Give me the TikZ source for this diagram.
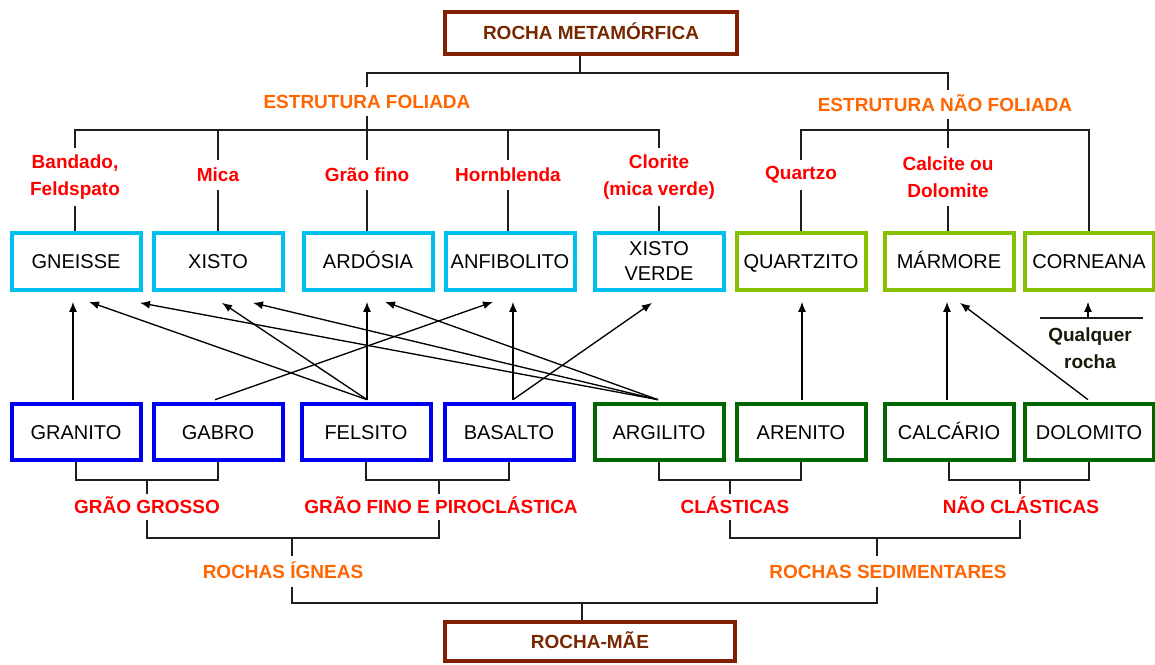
\documentclass[tikz,border=0pt]{standalone}
\usepackage{fontspec}
\setmainfont{Liberation Sans}
\usetikzlibrary{arrows.meta,calc}
\definecolor{brownc}{RGB}{128,32,0}
\definecolor{browntxt}{RGB}{120,40,0}
\definecolor{cyanc}{RGB}{0,192,240}
\definecolor{limec}{RGB}{134,192,0}
\definecolor{bluec}{RGB}{0,0,240}
\definecolor{greenc}{RGB}{0,102,0}
\definecolor{orangec}{RGB}{255,102,0}
\definecolor{redc}{RGB}{255,0,0}
\definecolor{darkc}{RGB}{25,25,10}
\definecolor{linec}{RGB}{30,30,30}
\pgfdeclarelayer{bg}
\pgfsetlayers{bg,main}
\begin{document}
\begin{tikzpicture}[x=0.75pt,y=-0.75pt,
  rockbase/.style={draw, line width=3pt, fill=white, minimum width=96.75pt, minimum height=42.5pt, inner sep=0pt, font=\fontsize{15}{18.75}\selectfont, align=center},
  rock/.style={rockbase, text height=10.75pt, text depth=0pt},
  fol/.style={rock, draw=cyanc},
  nfol/.style={rock, draw=limec},
  ign/.style={rock, draw=bluec},
  sed/.style={rock, draw=greenc},
  mainbox/.style={draw=brownc, line width=3pt, fill=white, minimum width=219pt, inner sep=0pt, text=browntxt, font=\bfseries\fontsize{14.25}{17}\selectfont, text height=10.3pt, text depth=0pt},
  cat/.style={text=orangec, font=\bfseries\fontsize{14.25}{17}\selectfont, inner sep=0pt, text height=10.3pt, text depth=0pt},
  sub/.style={text=redc, font=\bfseries\fontsize{14.25}{20.25}\selectfont, inner sep=0pt, align=center},
  qual/.style={text=darkc, font=\bfseries\fontsize{14.25}{20.25}\selectfont, inner sep=0pt, align=center},
  tree/.style={draw=linec, line width=1.2pt},
  arr/.style={draw=black, line width=1pt, -{Latex[length=7.5pt,width=6pt]}},
]
\useasboundingbox (0,0) rectangle (1155,664);

% title boxes
\node[mainbox, minimum height=31.5pt] (meta) at (591,33) {ROCHA METAMÓRFICA};
\node[mainbox, minimum height=29.25pt, minimum width=217.5pt] (mae) at (590,641.5) {ROCHA-MÃE};

% category labels
\node[cat, minimum height=21pt] (ef) at (367,101.5) {ESTRUTURA FOLIADA};
\node[cat, minimum height=21pt] (enf) at (945,104.5) {ESTRUTURA NÃO FOLIADA};

% mineral labels
\node[sub, minimum height=42.75pt] (s1) at (75,177) {Bandado,\\Feldspato};
\node[sub, minimum height=22.5pt] (s2) at (218,175) {Mica};
\node[sub, minimum height=22.5pt] (s3) at (367,175) {Grão fino};
\node[sub, minimum height=22.5pt] (s4) at (508,175) {Hornblenda};
\node[sub, minimum height=42.75pt] (s5) at (659,177) {Clorite\\(mica verde)};
\node[sub, minimum height=22.5pt] (q) at (801,175) {Quartzo};
\node[sub, minimum height=42.75pt] (c) at (948,177) {Calcite ou\\Dolomite};

% metamorphic rocks
\node[fol] (gneisse) at (76,261.5) {GNEISSE};
\node[fol] (xisto) at (218,261.5) {XISTO};
\node[fol] (ardosia) at (368,261.5) {ARDÓSIA};
\node[fol] (anfibolito) at (510,261.5) {ANFIBOLITO};
\node[rockbase, draw=cyanc] (xverde) at (659,261.5) {XISTO\\VERDE};
\node[nfol] (quartzito) at (801,261.5) {QUARTZITO};
\node[nfol] (marmore) at (949,261.5) {MÁRMORE};
\node[nfol] (corneana) at (1089,261.5) {CORNEANA};

% parent rocks
\node[ign] (granito) at (76,432) {GRANITO};
\node[ign] (gabro) at (218,432) {GABRO};
\node[ign] (felsito) at (366,432) {FELSITO};
\node[ign] (basalto) at (509,432) {BASALTO};
\node[sed] (argilito) at (659,432) {ARGILITO};
\node[sed] (arenito) at (801,432) {ARENITO};
\node[sed] (calcario) at (949,432) {CALCÁRIO};
\node[sed] (dolomito) at (1089,432) {DOLOMITO};

\node[qual] (qr) at (1090,348.5) {Qualquer\\rocha};

% lower labels
\node[sub, minimum height=19.5pt, text height=10.3pt, text depth=0pt] (ggl) at (147,507) {GRÃO GROSSO};
\node[sub, minimum height=19.5pt, text height=10.3pt, text depth=0pt] (gfl) at (441,507) {GRÃO FINO E PIROCLÁSTICA};
\node[sub, minimum height=19.5pt, text height=10.3pt, text depth=0pt] (cll) at (735,507) {CLÁSTICAS};
\node[sub, minimum height=19.5pt, text height=10.3pt, text depth=0pt] (ncl) at (1021,507) {NÃO CLÁSTICAS};
\node[cat, minimum height=22.5pt] (ri) at (283,571.5) {ROCHAS ÍGNEAS};
\node[cat, minimum height=22.5pt] (rs) at (888,571.5) {ROCHAS SEDIMENTARES};

\begin{pgfonlayer}{bg}
% top tree
\coordinate (tj) at (580,73);
\draw[tree] ([xshift=-8.25pt]meta.south) -- (tj);
\draw[tree] (ef.north) |- (tj);
\draw[tree] ([xshift=2.25pt]enf.north) |- (tj);
\coordinate (fb) at (367,130);
\draw[tree] (ef.south) -- (fb);
\draw[tree] (s1.north) |- (fb);
\draw[tree] (s2.north) |- (fb);
\draw[tree] (s3.north) -- (fb);
\draw[tree] (s4.north) |- (fb);
\draw[tree] (s5.north) |- (fb);
\draw[tree] (s1.south) -- (s1.south |- gneisse.north);
\draw[tree] (s2.south) -- (s2.south |- xisto.north);
\draw[tree] (s3.south) -- (s3.south |- ardosia.north);
\draw[tree] (s4.south) -- (s4.south |- anfibolito.north);
\draw[tree] (s5.south) -- (s5.south |- xverde.north);
\coordinate (nb) at (948,130);
\draw[tree] ([xshift=2.25pt]enf.south) -- (nb);
\draw[tree] (q.north) |- (nb);
\draw[tree] (c.north) -- (nb);
\draw[tree] (corneana.north) |- (nb);
\draw[tree] (q.south) -- (q.south |- quartzito.north);
\draw[tree] (c.south) -- (c.south |- marmore.north);

% bottom tree
\coordinate (gg) at (147,480);
\coordinate (gf) at (439,480);
\coordinate (cl) at (730,480);
\coordinate (nc) at (1020,480);
\draw[tree] (granito.south) |- (gg) -| (gabro.south);
\draw[tree] (felsito.south) |- (gf) -| (basalto.south);
\draw[tree] (argilito.south) |- (cl) -| (arenito.south);
\draw[tree] (calcario.south) |- (nc) -| (dolomito.south);
\draw[tree] (ggl.north -| gg) -- (gg);
\draw[tree] (gfl.north -| gf) -- (gf);
\draw[tree] (cll.north -| cl) -- (cl);
\draw[tree] (ncl.north -| nc) -- (nc);
\coordinate (ig) at (292,538);
\coordinate (sd) at (877,538);
\draw[tree] (ggl.south -| gg) |- (ig);
\draw[tree] (gfl.south -| gf) |- (ig);
\draw[tree] (ri.north -| ig) -- (ig);
\draw[tree] (cll.south -| cl) |- (sd);
\draw[tree] (ncl.south -| nc) |- (sd);
\draw[tree] (rs.north -| sd) -- (sd);
\coordinate (mj) at (582,603);
\draw[tree] (ri.south -| ig) |- (mj);
\draw[tree] (rs.south -| sd) |- (mj);
\draw[tree] (mae.north -| mj) -- (mj);

% transformation arrows
\draw[arr] ($(granito.north)+(-3,-2)$) -- ($(gneisse.south)+(-3,10)$);
\draw[arr] ($(felsito.north)+(1,-2)$) -- ($(gneisse.south)+(13,10)$);
\draw[arr] ($(argilito.north)+(-1,-2)$) -- ($(gneisse.south)+(64,11)$);
\draw[arr] ($(felsito.north)+(1,-2)$) -- ($(xisto.south)+(4,11)$);
\draw[arr] ($(argilito.north)+(-1,-2)$) -- ($(xisto.south)+(35,11)$);
\draw[arr] ($(felsito.north)+(1,-2)$) -- ($(ardosia.south)+(-1,10)$);
\draw[arr] ($(argilito.north)+(-1,-2)$) -- ($(ardosia.south)+(17,10)$);
\draw[arr] ($(gabro.north)+(-3,-2)$) -- ($(anfibolito.south)+(-17,10)$);
\draw[arr] ($(basalto.north)+(4,-2)$) -- ($(anfibolito.south)+(3,10)$);
\draw[arr] ($(basalto.north)+(4,-2)$) -- ($(xverde.south)+(-7,11)$);
\draw[arr] ($(arenito.north)+(1,-2)$) -- ($(quartzito.south)+(1,10)$);
\draw[arr] ($(calcario.north)+(-2,-2)$) -- ($(marmore.south)+(-2,10)$);
\draw[arr] ($(dolomito.north)+(-1,-2)$) -- ($(marmore.south)+(11,11)$);

% any rock -> corneana
\coordinate (qa) at (1040,318);
\coordinate (qb) at (1143,318);
\coordinate (qm) at (1088,318);
\draw[tree] (qa) -- (qb);
\draw[arr] (qm) -- ($(corneana.south)+(-1,10)$);
\end{pgfonlayer}
\end{tikzpicture}
\end{document}
